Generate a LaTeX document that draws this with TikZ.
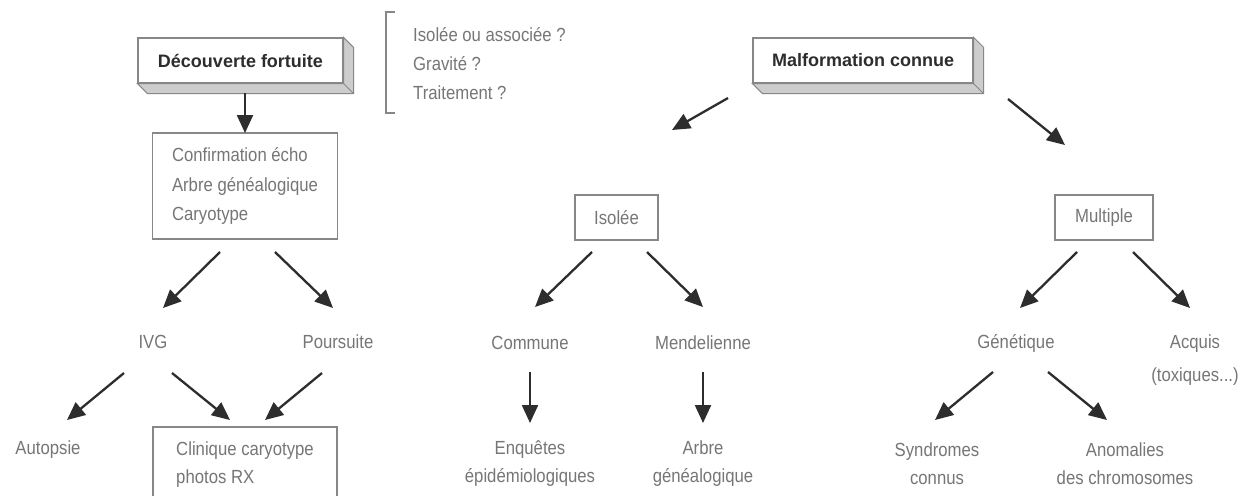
\documentclass[tikz,border=0pt]{standalone}
\usepackage{fontspec}
\setmainfont{Liberation Sans}
\newfontfamily\condfont[FakeStretch=0.88]{Liberation Sans}
\usetikzlibrary{arrows.meta,positioning}
\definecolor{txtgray}{RGB}{118,118,118}
\definecolor{boxgray}{RGB}{135,135,135}
\definecolor{arrowdark}{RGB}{45,45,45}
\definecolor{sidegray}{RGB}{205,205,205}

\begin{document}
\begin{tikzpicture}[x=1pt, y=-1pt,
    header/.style={rectangle, draw=boxgray, line width=1.2pt, fill=white,
                   minimum height=45pt, text=arrowdark,
                   font=\fontsize{18}{20}\selectfont\bfseries},
    box/.style={rectangle, draw=boxgray, line width=1.1pt, fill=white,
                text=txtgray, align=left, font=\condfont\fontsize{19}{29.5}\selectfont},
    lbl/.style={text=txtgray, align=center, inner sep=0pt,
                font=\condfont\fontsize{19}{28}\selectfont},
    flow/.style={-{Triangle[length=18pt,width=16pt]}, line width=2.3pt, draw=arrowdark},
]

\useasboundingbox (0,0) rectangle (1246,495);
\clip (0,0) rectangle (1246,495);
\fill[white] (0,0) rectangle (1246,495);

% Header boxes
\node[header, minimum width=205pt] (decouv) at (240.5,60.5) {Découverte fortuite};
\node[header, minimum width=220pt] (malf) at (863,60.5) {Malformation connue};

% Extruded sides of the header boxes
\foreach \n in {decouv, malf} {
    \filldraw[draw=boxgray, fill=sidegray, line width=1pt]
        (\n.north east) -- ++(10,10) -- ([shift={(10,10)}]\n.south east)
        -- ([shift={(10,10)}]\n.south west) -- (\n.south west)
        -- (\n.south east) -- cycle;
    \draw[boxgray, line width=1pt] (\n.south east) -- ++(10,10);
}

% Questions
\node[lbl, align=left, anchor=west, font=\condfont\fontsize{19}{29}\selectfont] (quest) at (413,64)
    {Isolée ou associée ?\\Gravité ?\\Traitement ?};
\draw[boxgray, line width=1.1pt] (395,12) -- (386,12) -- (386,113) -- (395,113);

% Left branch
\node[box, minimum width=185pt, minimum height=106pt] (conf) at (245,186)
    {Confirmation écho\\Arbre généalogique\\Caryotype};
\node[lbl] (ivg) at (153,342) {IVG};
\node[lbl] (pours) at (338,342) {Poursuite};
\node[lbl] (autop) at (48,450) {Autopsie};
\node[box, minimum width=184pt, minimum height=76pt, font=\condfont\fontsize{19}{28}\selectfont] (clin) at (245,465)
    {Clinique caryotype\\photos RX};

% Middle branch
\node[box, minimum width=83pt, minimum height=45pt] (isolee) at (616.5,217.5) {Isolée};
\node[lbl] (commune) at (530,343) {Commune};
\node[lbl] (mendel) at (703,343) {Mendelienne};
\node[lbl] (enq) at (530,464) {Enquêtes\\épidémiologiques};
\node[lbl] (arbre) at (703,464) {Arbre\\généalogique};

% Right branch
\node[box, minimum width=98pt, minimum height=45pt] (multiple) at (1104,217.5) {Multiple};
\node[lbl] (genet) at (1016,343) {Génétique};
\node[lbl, font=\condfont\fontsize{19}{33}\selectfont] (acquis) at (1195,360) {Acquis\\(toxiques...)};
\node[lbl] (synd) at (937,464) {Syndromes\\connus};
\node[lbl] (anom) at (1125,464) {Anomalies\\des chromosomes};

% Arrows
\draw[flow] ([shift={(4.5,32.5)}]decouv.center) -- ([shift={(0,-53)}]conf.center);
\draw[flow] ([shift={(-135,37.5)}]malf.center) -- ([shift={(55.5,-87.5)}]isolee.center);
\draw[flow] ([shift={(145,38.5)}]malf.center) -- ([shift={(-39,-72.5)}]multiple.center);
\draw[flow] ([shift={(-25,66)}]conf.center) -- ([shift={(10,-34)}]ivg.center);
\draw[flow] ([shift={(30,66)}]conf.center) -- ([shift={(-5,-34)}]pours.center);
\draw[flow] ([shift={(-29,31)}]ivg.center) -- ([shift={(19,-30)}]autop.center);
\draw[flow] ([shift={(19,31)}]ivg.center) -- ([shift={(-15,-45)}]clin.center);
\draw[flow] ([shift={(-16,31)}]pours.center) -- ([shift={(20,-45)}]clin.center);
\draw[flow] ([shift={(-24.5,34.5)}]isolee.center) -- ([shift={(5,-36)}]commune.center);
\draw[flow] ([shift={(30.5,34.5)}]isolee.center) -- ([shift={(0,-36)}]mendel.center);
\draw[flow] ([shift={(0,29)}]commune.center) -- ([shift={(0,-41)}]enq.center);
\draw[flow] ([shift={(0,29)}]mendel.center) -- ([shift={(0,-41)}]arbre.center);
\draw[flow] ([shift={(-27,34.5)}]multiple.center) -- ([shift={(4,-35)}]genet.center);
\draw[flow] ([shift={(29,34.5)}]multiple.center) -- ([shift={(-5,-52)}]acquis.center);
\draw[flow] ([shift={(-23,29)}]genet.center) -- ([shift={(-2,-44)}]synd.center);
\draw[flow] ([shift={(32,29)}]genet.center) -- ([shift={(-18,-44)}]anom.center);

\end{tikzpicture}
\end{document}
